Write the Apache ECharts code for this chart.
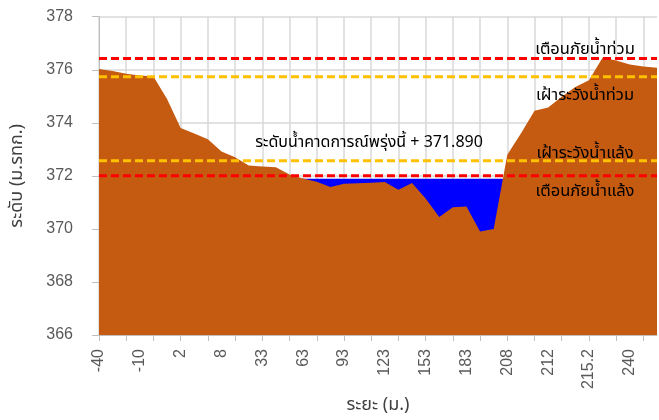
<!DOCTYPE html>
<html>
<head>
<meta charset="utf-8">
<script src="https://cdn.jsdelivr.net/npm/echarts@6/dist/echarts.min.js"></script>
<style>
html,body{margin:0;padding:0;background:#fff;}
#c{width:659px;height:420px;}
</style>
</head>
<body>
<div id="c"></div>
<script>
// Distance categories (m.)
const categories = ['-40','-30','-20','-10','-6','-2','2','4','6','8','13','23','33','43','53','63','73','83','93','103','113','123','133','143','153','163','173','183','193','203','208','209','210','212','213','214','215.2','220','230','240','250','260'];
// Ground elevation (m. MSL)
const groundLevel = [376.03,375.95,375.85,375.78,375.75,374.9,373.8,373.6,373.38,372.92,372.7,372.39,372.35,372.32,372.05,371.9,371.78,371.58,371.7,371.72,371.74,371.77,371.48,371.73,371.15,370.45,370.82,370.84,369.9,370.0,372.8,373.6,374.45,374.58,374.98,375.35,375.6,376.45,376.35,376.2,376.12,376.08];
// Reference levels
const forecastLevel = 371.89;
const floodWarning = 376.42;
const floodWatch = 375.74;
const droughtWatch = 372.57;
const droughtWarning = 372.0;
const yTicks = [366, 368, 370, 372, 374, 376, 378];

const thaiFont = "Tahoma, 'Leelawadee UI', 'Noto Sans Thai', 'Noto Sans', 'DejaVu Sans', sans-serif";
const numFont = "'Liberation Sans', Arial, sans-serif";

const flat = v => categories.map(() => v);

const chart = echarts.init(document.getElementById('c'), null, {renderer: 'canvas'});
const dashLine = (name, v, color) => ({
  name, type: 'line', data: flat(v), symbol: 'none', z: 5,
  lineStyle: {color, width: 3, type: [8, 4]}, silent: true
});
const note = (text, x, y, size) => ({
  type: 'text', x, y, z: 10,
  style: {text, fill: '#000', font: size + 'px ' + thaiFont, align: 'center', verticalAlign: 'middle'}
});
chart.setOption({
  animation: false,
  grid: {left: 99, right: 2, top: 16.7, bottom: 79.3, containLabel: false},
  xAxis: {
    type: 'category', data: categories, boundaryGap: false,
    name: 'ระยะ (ม.)', nameLocation: 'middle', nameGap: 62,
    nameTextStyle: {fontFamily: thaiFont, fontSize: 18, color: '#404040'},
    axisLine: {show: true, lineStyle: {color: '#bfbfbf', width: 1}},
    axisTick: {show: true, interval: 1, length: 6, lineStyle: {color: '#bfbfbf'}},
    axisLabel: {interval: 2, rotate: 90, margin: 14, fontSize: 16, fontFamily: numFont, color: '#595959'},
    splitLine: {show: true, interval: 1, lineStyle: {color: '#d9d9d9', width: 1.5}}
  },
  yAxis: {
    type: 'value', min: yTicks[0], max: yTicks[yTicks.length - 1], interval: 2,
    name: 'ระดับ (ม.รทก.)', nameLocation: 'middle', nameGap: 72, nameRotate: 90,
    nameTextStyle: {fontFamily: thaiFont, fontSize: 18, color: '#404040'},
    axisLine: {show: true, lineStyle: {color: '#bfbfbf', width: 1}},
    axisTick: {show: true, length: 7, lineStyle: {color: '#bfbfbf'}},
    axisLabel: {margin: 26, fontSize: 16, fontFamily: numFont, color: '#595959'},
    splitLine: {show: true, lineStyle: {color: '#d9d9d9', width: 1.5}}
  },
  series: [
    {name: 'water', type: 'line', data: flat(forecastLevel), symbol: 'none', z: 1,
     lineStyle: {width: 0}, areaStyle: {color: '#0000ff', opacity: 1}},
    {name: 'ground', type: 'line', data: groundLevel, symbol: 'none', z: 2,
     lineStyle: {width: 0}, areaStyle: {color: '#c55a11', opacity: 1}},
    dashLine('floodWarning', floodWarning, '#ff0000'),
    dashLine('floodWatch', floodWatch, '#ffc000'),
    dashLine('droughtWatch', droughtWatch, '#ffc000'),
    dashLine('droughtWarning', droughtWarning, '#ff0000')
  ],
  graphic: [
    note('ระดับน้ำคาดการณ์พรุ่งนี้ + ' + forecastLevel.toFixed(3), 369, 144, 16),
    note('เตือนภัยน้ำท่วม', 585, 51, 16.5),
    note('เฝ้าระวังน้ำท่วม', 585, 97, 16.5),
    note('เฝ้าระวังน้ำแล้ง', 585, 155, 16.5),
    note('เตือนภัยน้ำแล้ง', 585, 193, 16.5)
  ]
});
</script>
</body>
</html>
